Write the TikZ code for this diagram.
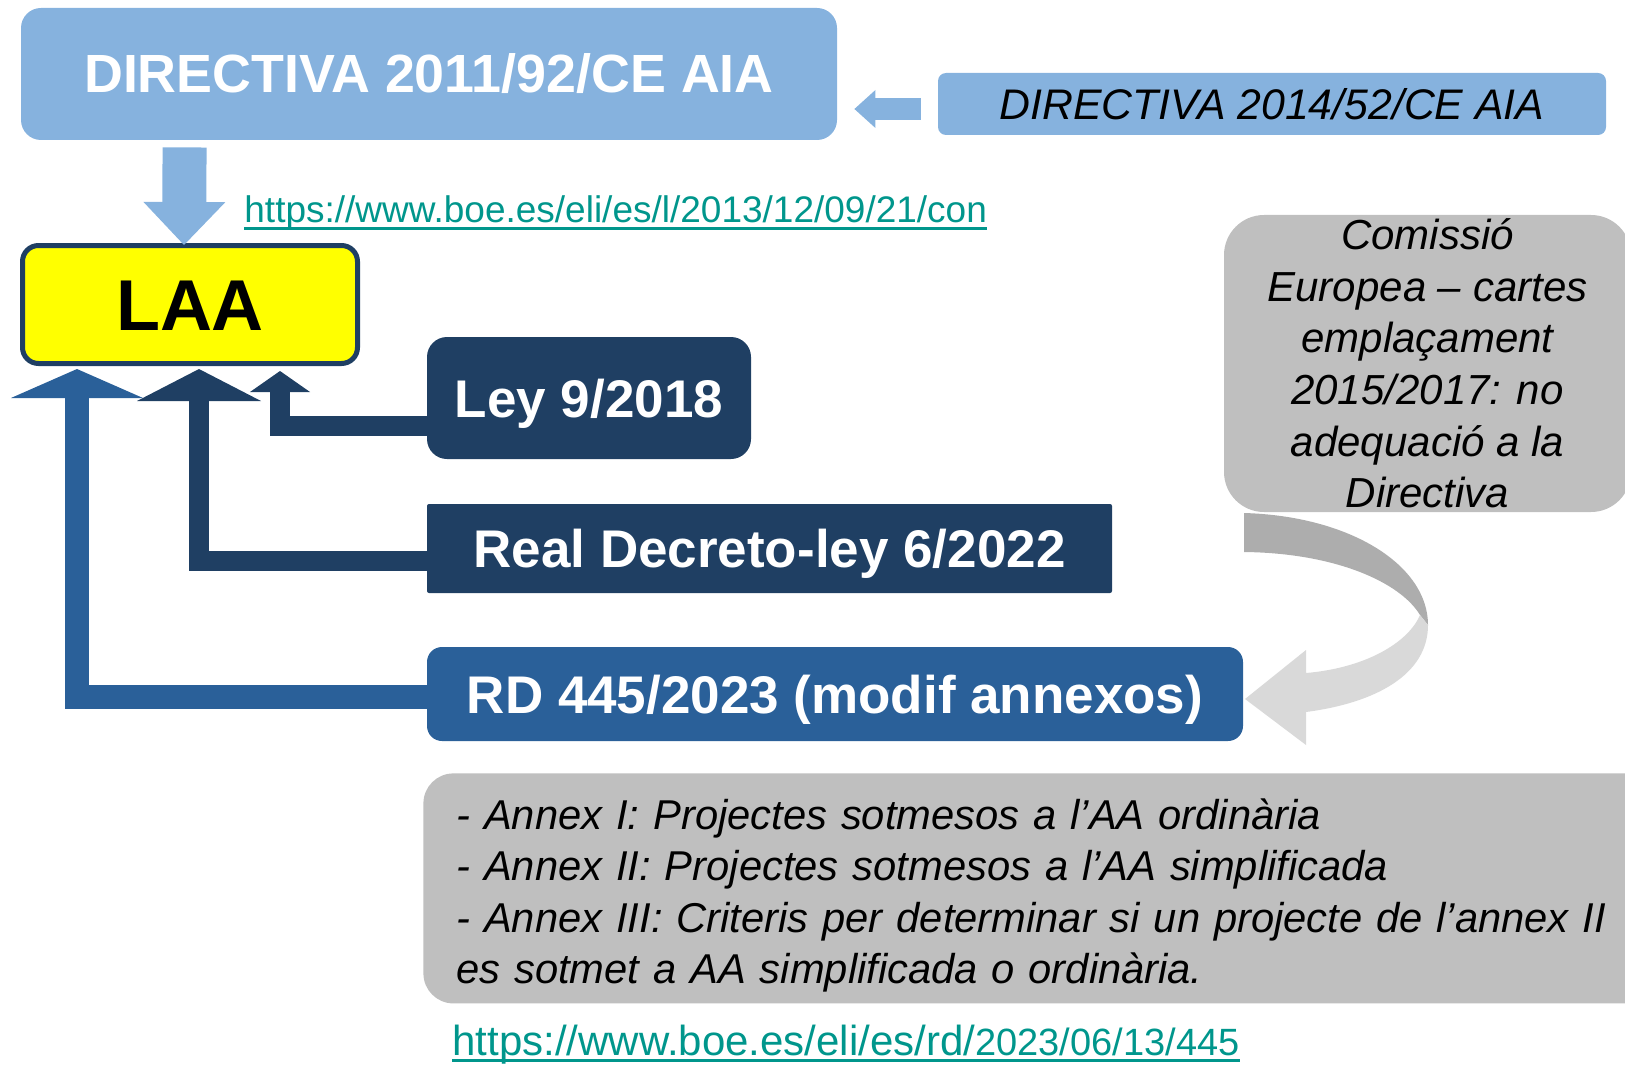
\documentclass[tikz,border=0pt]{standalone}
\usepackage{fontspec}
\setmainfont{Liberation Sans}
\usetikzlibrary{arrows.meta,calc}
\definecolor{dirblue}{RGB}{134,178,222}
\definecolor{navy}{RGB}{31,63,99}
\definecolor{rdblue}{RGB}{42,96,153}
\definecolor{urlteal}{RGB}{0,150,140}
\definecolor{boxgrey}{RGB}{191,191,191}
\definecolor{ribdark}{RGB}{173,173,173}
\definecolor{riblight}{RGB}{217,217,217}
\definecolor{laayellow}{RGB}{255,255,0}

\begin{document}
\begin{tikzpicture}[x=0.5pt,y=-0.5pt,
    bigtxt/.style={font=\fontsize{26.5}{32}\selectfont\bfseries,text=white,inner sep=0pt,
                   text height=19pt,text depth=0pt},
    smalltxt/.style={font=\fontsize{21}{25.8}\selectfont\itshape,inner sep=0pt},
    urltxt/.style={text=urlteal,inner sep=0pt,anchor=base west},
    uline/.style={urlteal,line width=1.5pt},
    blockarr/.style={line width=#1,line join=miter},
    tip/.style 2 args={-{Triangle[width=#1,length=#2,line width=0pt]}}
]
\useasboundingbox (0,0) rectangle (1625,1064);

\node[bigtxt,font=\fontsize{26.9}{32}\selectfont\bfseries,fill=dirblue,rounded corners=10pt,
      minimum width=408pt,minimum height=66pt] (dir11) at (429,74) {DIRECTIVA 2011/92/CE AIA};
\node[smalltxt,font=\fontsize{21.4}{25.8}\selectfont\itshape,fill=dirblue,rounded corners=4pt,
      minimum width=334pt,minimum height=31pt] (dir14) at (1272,104) {DIRECTIVA 2014/52/CE AIA};
\node[draw=navy,line width=2.5pt,fill=laayellow,rounded corners=8pt,minimum width=167.5pt,minimum height=59pt,
      font=\fontsize{36}{40}\selectfont\bfseries,inner sep=0pt,text height=25.8pt,text depth=0pt] (laa) at (190,304.5) {LAA};

\coordinate (d14) at ($(dir14.west)+(-17,5)$);
\draw[dirblue,blockarr=11pt,tip={19pt}{10.5pt}] (d14) -- ($(dir11.east |- d14)+(17,0)$);
\draw[dirblue,blockarr=22pt,tip={41pt}{21.5pt}] ($(dir11.south west)+(164,7)$) -- ($(laa.north west)+(164,2)$);

\node[urltxt,font=\fontsize{18.5}{22}\selectfont] (url1) at (244,222) {https://www.boe.es/eli/es/l/2013/12/09/21/con};
\draw[uline] ($(url1.base west)+(0,6)$) -- ($(url1.base east)+(0,6)$);

% laws changing the LAA
\draw[navy,blockarr=10pt,tip={30pt}{10.5pt}] ($(laa.west |- 0,426)+(407,0)$) -| ($(laa.south)+(90,5)$);
\draw[navy,blockarr=10pt,tip={62pt}{16pt}] ($(laa.west |- 0,561)+(407,0)$) -| ($(laa.south)+(9,3)$);
\draw[rdblue,blockarr=12pt,tip={66pt}{14.5pt}] ($(laa.west |- 0,697)+(407,0)$) -| ($(laa.south)+(-113,3)$);

\node[bigtxt,fill=navy,rounded corners=10pt,minimum width=162pt,minimum height=61pt] (ley) at (589,398) {Ley 9/2018};
\node[bigtxt,fill=navy,rounded corners=1pt,minimum width=342.5pt,minimum height=44.5pt] (rdl) at (769.5,548.5) {Real Decreto-ley 6/2022};
\node[bigtxt,fill=rdblue,rounded corners=7.5pt,minimum width=408pt,minimum height=47pt] (rd) at (835,694) {RD 445/2023 (modif annexos)};

% comissio and curved arrow
\node[smalltxt,fill=boxgrey,rounded corners=20pt,minimum width=203.5pt,minimum height=148.5pt,
      inner ysep=-4pt,align=center] (com) at (1427.5,363.5)
      {Comissió\\Europea – cartes\\emplaçament\\2015/2017: no\\adequació a la\\Directiva};
\fill[ribdark] (1244,513) .. controls (1350,516) and (1428,565) .. (1428,625)
    -- (1420,615) .. controls (1400,582) and (1335,553) .. (1244,552) -- cycle;
\fill[riblight] (1428,625) .. controls (1428,675) and (1375,703) .. (1306,712)
    -- (1306,745) -- (1245,699) -- (1306,650) -- (1306,673)
    .. controls (1365,668) and (1408,643) .. (1420,615) -- cycle;

\node[fill=boxgrey,rounded corners=15pt,anchor=north west,minimum width=628.5pt,minimum height=115pt] (annex) at (423,773) {};
\node[smalltxt,font=\fontsize{20.85}{25.8}\selectfont\itshape,anchor=north west,text width=590pt,align=left] (annextxt)
      at ($(annex.north west)+(33,25)$)
      {- Annex I: Projectes sotmesos a l’AA ordinària\\
       - Annex II: Projectes sotmesos a l’AA simplificada\\
       - Annex III: Criteris per determinar si un projecte de l’annex II\\
       es sotmet a AA simplificada o ordinària.};

\node[urltxt,font=\fontsize{21}{25}\selectfont] (url2) at (452,1055)
      {https://www.boe.es/eli/es/rd/{\fontsize{19}{22}\selectfont 2023/06/13/445}};
\draw[uline] ($(url2.base west)+(0,5)$) -- ($(url2.base east)+(0,5)$);
\end{tikzpicture}
\end{document}
